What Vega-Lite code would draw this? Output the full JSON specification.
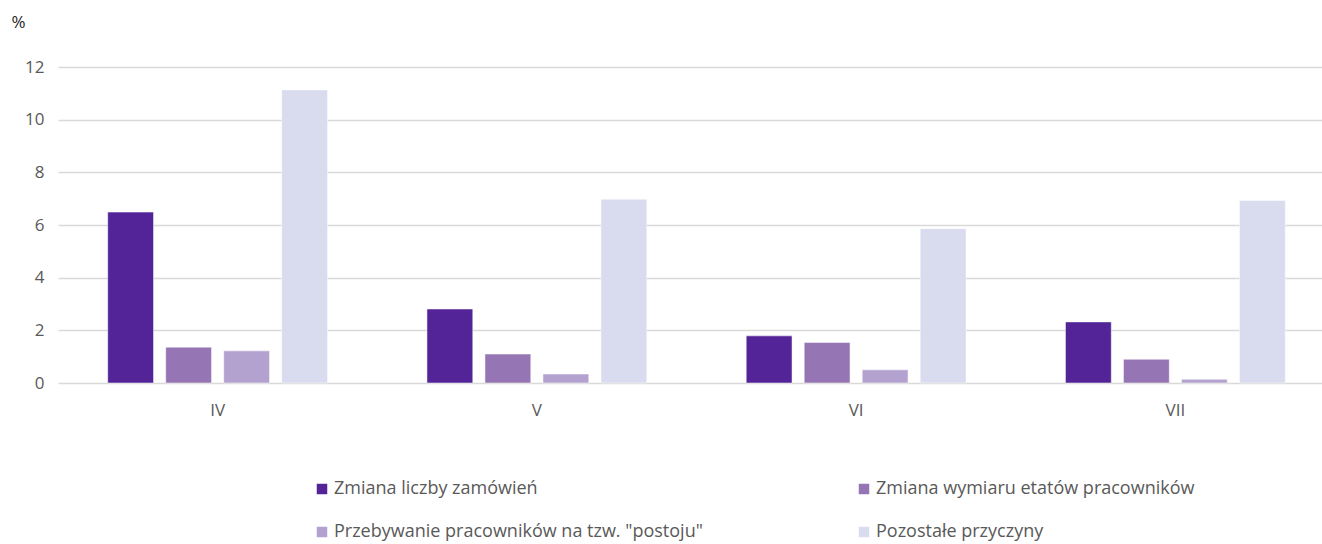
{
  "$schema": "https://vega.github.io/schema/vega-lite/v6.json",
  "autosize": "none",
  "width": 1264,
  "height": 316,
  "padding": {"left": 58, "top": 67, "right": 0, "bottom": 161},
  "background": "white",
  "config": {
    "view": {"stroke": null},
    "font": "Open Sans"
  },
  "data": {
    "values": [
      {"month": "IV", "category": "Zmiana liczby zamówień", "value": 6.49},
      {"month": "IV", "category": "Zmiana wymiaru etatów pracowników", "value": 1.36},
      {"month": "IV", "category": "Przebywanie pracowników na tzw. \"postoju\"", "value": 1.22},
      {"month": "IV", "category": "Pozostałe przyczyny", "value": 11.13},
      {"month": "V", "category": "Zmiana liczby zamówień", "value": 2.81},
      {"month": "V", "category": "Zmiana wymiaru etatów pracowników", "value": 1.1},
      {"month": "V", "category": "Przebywanie pracowników na tzw. \"postoju\"", "value": 0.34},
      {"month": "V", "category": "Pozostałe przyczyny", "value": 6.98},
      {"month": "VI", "category": "Zmiana liczby zamówień", "value": 1.79},
      {"month": "VI", "category": "Zmiana wymiaru etatów pracowników", "value": 1.54},
      {"month": "VI", "category": "Przebywanie pracowników na tzw. \"postoju\"", "value": 0.5},
      {"month": "VI", "category": "Pozostałe przyczyny", "value": 5.86},
      {"month": "VII", "category": "Zmiana liczby zamówień", "value": 2.32},
      {"month": "VII", "category": "Zmiana wymiaru etatów pracowników", "value": 0.9},
      {"month": "VII", "category": "Przebywanie pracowników na tzw. \"postoju\"", "value": 0.14},
      {"month": "VII", "category": "Pozostałe przyczyny", "value": 6.93}
    ]
  },
  "mark": {"type": "bar", "stroke": "white", "strokeWidth": 0.5},
  "encoding": {
    "x": {
      "field": "month",
      "type": "nominal",
      "sort": ["IV", "V", "VI", "VII"],
      "scale": {"range": [0, 1277], "paddingInner": 0, "paddingOuter": 0},
      "axis": {
        "title": null,
        "labelAngle": 0,
        "domain": false,
        "ticks": false,
        "grid": false,
        "labelPadding": 19,
        "labelFontSize": 17,
        "labelColor": "#595959"
      }
    },
    "xOffset": {
      "field": "category",
      "type": "nominal",
      "sort": ["Zmiana liczby zamówień", "Zmiana wymiaru etatów pracowników", "Przebywanie pracowników na tzw. \"postoju\"", "Pozostałe przyczyny"],
      "scale": {"paddingInner": 0.21, "paddingOuter": 0.857}
    },
    "y": {
      "field": "value",
      "type": "quantitative",
      "scale": {"domain": [0, 12], "nice": false},
      "axis": {
        "values": [0, 2, 4, 6, 8, 10, 12],
        "domain": false,
        "ticks": false,
        "labelPadding": 14,
        "labelFontSize": 17,
        "labelColor": "#595959",
        "gridColor": "#d9d9d9",
        "gridWidth": 1.5,
        "title": "%",
        "titleAngle": 0,
        "titleAlign": "left",
        "titleBaseline": "middle",
        "titleX": -47,
        "titleY": -45,
        "titleFontSize": 17,
        "titleFontWeight": "normal",
        "titleColor": "#262626"
      }
    },
    "color": {
      "field": "category",
      "type": "nominal",
      "scale": {
        "domain": ["Zmiana liczby zamówień", "Zmiana wymiaru etatów pracowników", "Przebywanie pracowników na tzw. \"postoju\"", "Pozostałe przyczyny"],
        "range": ["#532398", "#9575b3", "#b3a2d0", "#d9dbef"]
      },
      "legend": {
        "title": null,
        "orient": "none",
        "legendX": 255,
        "legendY": 413,
        "direction": "horizontal",
        "columns": 2,
        "symbolType": "square",
        "symbolSize": 110,
        "symbolStrokeWidth": 0,
        "labelOffset": 3,
        "labelFontSize": 18,
        "labelColor": "#595959",
        "labelLimit": 500,
        "columnPadding": 152,
        "rowPadding": 25
      }
    }
  }
}
